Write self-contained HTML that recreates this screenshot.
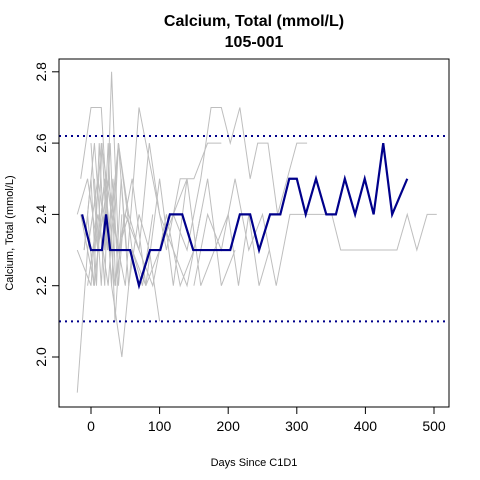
<!DOCTYPE html>
<html><head><meta charset="utf-8"><style>
body{margin:0;background:#fff}
svg{display:block;font-family:"Liberation Sans",Arial,sans-serif}
</style></head><body>
<svg id="chart" width="480" height="480" viewBox="0 0 480 480">
<text x="254" y="26" text-anchor="middle" font-size="16" font-weight="bold">Calcium, Total (mmol/L)</text>
<text x="254" y="47" text-anchor="middle" font-size="16" font-weight="bold">105-001</text>
<text x="254" y="466" text-anchor="middle" font-size="11">Days Since C1D1</text>
<text transform="translate(13,233) rotate(-90)" text-anchor="middle" font-size="11">Calcium, Total (mmol/L)</text>
<g id="grey"></g>
<g id="refs"></g>
<g id="main"></g>
<g id="axes"></g>
<rect x="59" y="59" width="390" height="348" fill="none" stroke="#000"/>
</svg>
<script>
const xTicks=[0,100,200,300,400,500];
const yTicks=[2.0,2.2,2.4,2.6,2.8];
const refLow=2.1, refHigh=2.62;
const mainDays=[-13,0,16,22,28,57,70,86,101,115,133,149,203,217,232,245,261,276,289,300,313,328,343,357,370,385,399,412,426,439,461];
const mainVals=[2.4,2.3,2.3,2.4,2.3,2.3,2.2,2.3,2.3,2.4,2.4,2.3,2.3,2.4,2.4,2.3,2.4,2.4,2.5,2.5,2.4,2.5,2.4,2.4,2.5,2.4,2.5,2.4,2.6,2.4,2.5];
const g1Days=[-20,-5,10,25,40,55,70,85,100];
const g1Vals=[1.9,2.3,2.5,2.3,2.6,2.2,2.4,2.3,2.1];
const g2Days=[-15,0,15,30,45,60,75,90];
const g2Vals=[2.5,2.7,2.7,2.2,2.0,2.3,2.2,2.4];
const g3Days=[-10,5,20,30,40,55];
const g3Vals=[2.3,2.6,2.2,2.8,2.3,2.4];
const g4Days=[-20,0,15,30,50,70,90,110,130,150,170,190];
const g4Vals=[2.3,2.2,2.6,2.4,2.2,2.7,2.5,2.3,2.5,2.5,2.6,2.6];
const g5Days=[-5,10,25,40,60,80,100,120,140,160,180,200,215,230,245,260];
const g5Vals=[2.2,2.4,2.2,2.6,2.3,2.2,2.5,2.2,2.5,2.2,2.3,2.4,2.2,2.4,2.2,2.3];
const g6Days=[120,140,160,175,190,203,217,232,243,258,272,286,300,315];
const g6Vals=[2.4,2.3,2.5,2.7,2.7,2.6,2.7,2.5,2.6,2.6,2.4,2.5,2.6,2.6];
const g7Days=[150,170,190,210,230,250,270,290,310,332,351,364,446,461,475,490,504];
const g7Vals=[2.2,2.4,2.3,2.5,2.3,2.4,2.2,2.4,2.4,2.4,2.4,2.3,2.3,2.4,2.3,2.4,2.4];
const g8Days=[-15,5,20,35,50,70,90,110,130,150,170,190,210];
const g8Vals=[2.4,2.2,2.5,2.2,2.4,2.3,2.2,2.4,2.2,2.3,2.5,2.2,2.3];
const g9Days=[0,10,20,30,40,55,70,85,100,120,140,160];
const g9Vals=[2.6,2.3,2.5,2.2,2.6,2.4,2.3,2.6,2.4,2.3,2.2,2.4];
const g10Days=[-20,-5,10,25,40,60,80,100,120,140];
const g10Vals=[2.4,2.5,2.3,2.5,2.3,2.5,2.2,2.3,2.4,2.5];
const g11Days=[5,15,25,35,45];
const g11Vals=[2.5,2.2,2.6,2.1,2.4];
const g12Days=[-10,0,8,16,24,32,40,48];
const g12Vals=[2.3,2.5,2.2,2.6,2.3,2.5,2.2,2.4];
const g13Days=[-5,4,12,20,28,36,44,52];
const g13Vals=[2.4,2.2,2.6,2.3,2.6,2.2,2.5,2.3];
const grey=[[g1Days,g1Vals],[g2Days,g2Vals],[g3Days,g3Vals],[g4Days,g4Vals],[g5Days,g5Vals],[g6Days,g6Vals],[g7Days,g7Vals],[g8Days,g8Vals],[g9Days,g9Vals],[g10Days,g10Vals],[g11Days,g11Vals],[g12Days,g12Vals],[g13Days,g13Vals]];
const NS="http://www.w3.org/2000/svg";
const xS=d=>91+d*0.686;
const yS=v=>357-(v-2.0)*356.5;
function mk(t,a){const e=document.createElementNS(NS,t);for(const k in a)e.setAttribute(k,a[k]);return e;}
const gG=document.getElementById('grey');
grey.forEach(([ds,vs])=>{
  const p=mk('polyline',{points:ds.map((d,i)=>xS(d)+','+yS(vs[i])).join(' '),fill:'none',stroke:'#bebebe','stroke-width':1});
  
  
  gG.appendChild(p);
});
const rG=document.getElementById('refs');
[refLow,refHigh].forEach(v=>{
  const l=mk('line',{x1:59,x2:449,y1:yS(v),y2:yS(v),stroke:'#00008b','stroke-width':2,'stroke-dasharray':'2 4'});
  
  
  rG.appendChild(l);
});
const mL=mk('polyline',{points:mainDays.map((d,i)=>xS(d)+','+yS(mainVals[i])).join(' '),fill:'none',stroke:'#00008b','stroke-width':2.2,'stroke-linejoin':'miter'});


document.getElementById('main').appendChild(mL);
const aG=document.getElementById('axes');
xTicks.forEach(t=>{
  const l=mk('line',{x1:xS(t),x2:xS(t),y1:407,y2:414,stroke:'#000'});
  
  
  aG.appendChild(l);
  const tx=mk('text',{x:xS(t),y:431,'text-anchor':'middle','font-size':14});
  tx.textContent=t;
  
  
  aG.appendChild(tx);
});
yTicks.forEach(t=>{
  const l=mk('line',{x1:52,x2:59,y1:yS(t),y2:yS(t),stroke:'#000'});
  
  
  aG.appendChild(l);
  const tx=mk('text',{x:0,y:0,'text-anchor':'middle','font-size':14,transform:'translate(46,'+yS(t)+') rotate(-90)'});
  tx.textContent=t.toFixed(1);
  
  
  aG.appendChild(tx);
});
</script>
</body></html>
